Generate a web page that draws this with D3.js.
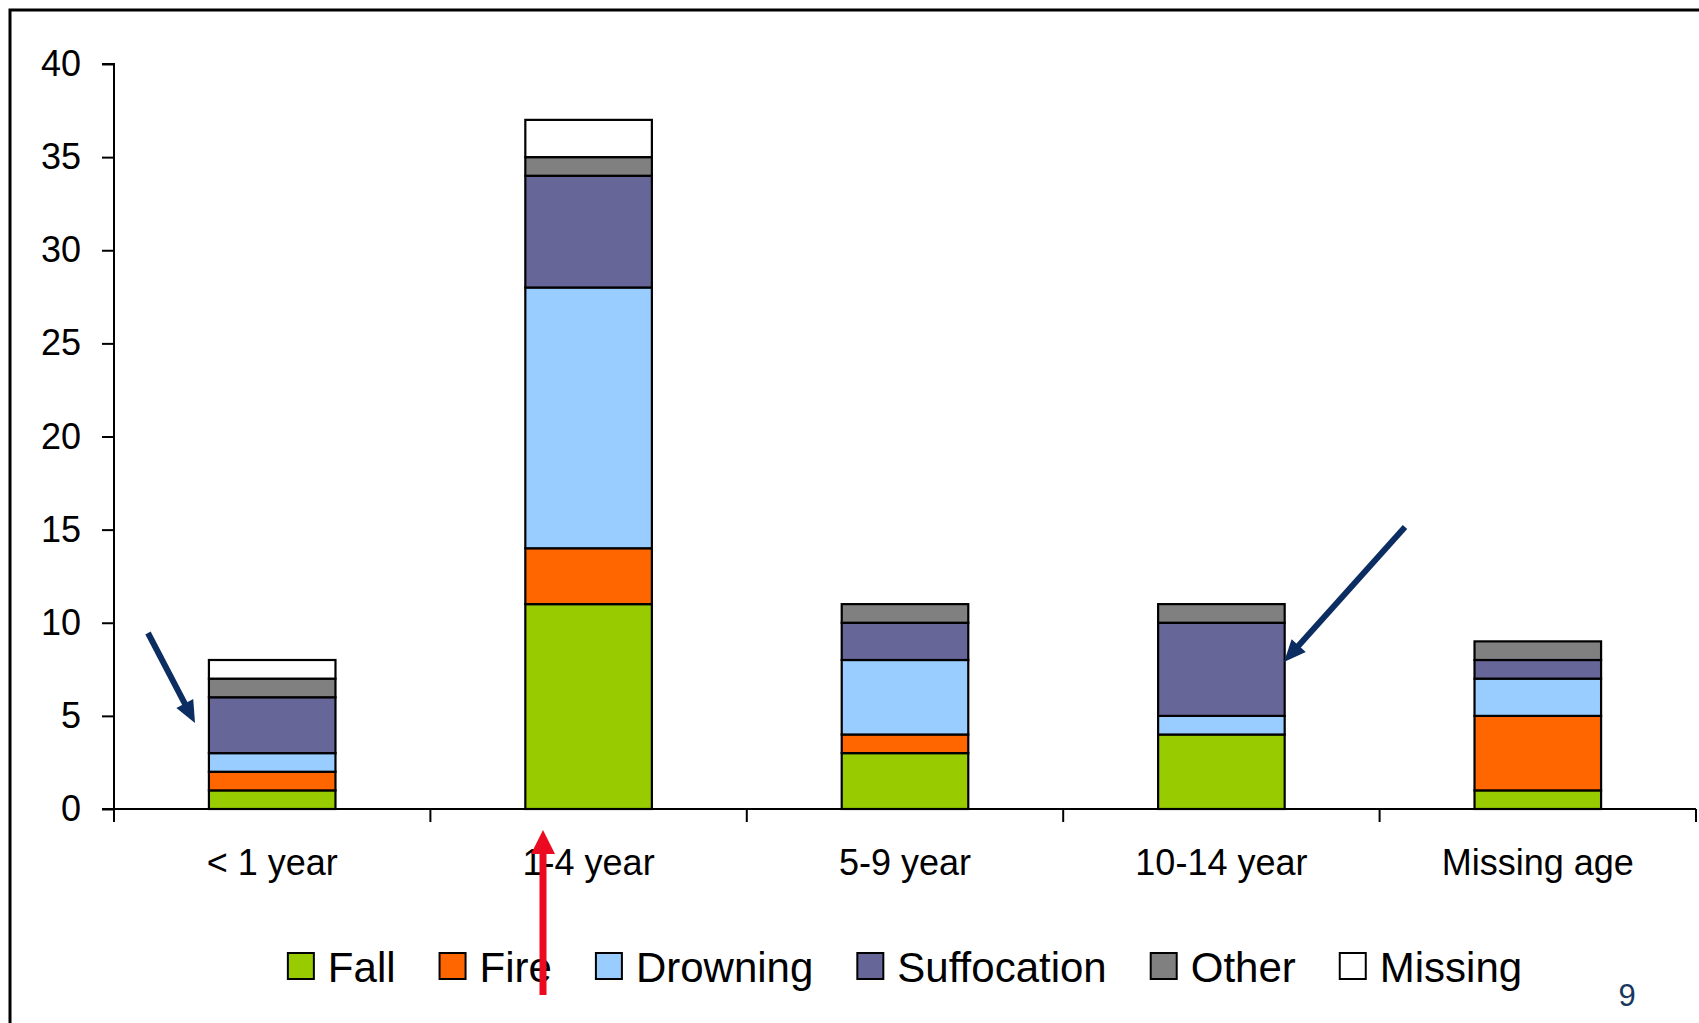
<!DOCTYPE html>
<html>
<head>
<meta charset="utf-8">
<script src="https://cdn.jsdelivr.net/npm/d3@7"></script>
<style>
  body { margin: 0; background: #fff; }
  svg { display: block; font-family: "Liberation Sans", Arial, sans-serif; }
</style>
</head>
<body>
<div id="chart"></div>
<script>
// Data
var categories = ["< 1 year", "1-4 year", "5-9 year", "10-14 year", "Missing age"];
var seriesNames = ["Fall", "Fire", "Drowning", "Suffocation", "Other", "Missing"];
var fall        = [1, 11, 3, 4, 1];
var fire        = [1, 3, 1, 0, 4];
var drowning    = [1, 14, 4, 1, 2];
var suffocation = [3, 6, 2, 5, 1];
var other       = [1, 1, 1, 1, 1];
var missing     = [1, 2, 0, 0, 0];
var yTicks = [0, 5, 10, 15, 20, 25, 30, 35, 40];

var colors = ["#99cc00", "#ff6600", "#99ccff", "#666699", "#808080", "#ffffff"];

var width = 1699, height = 1023;
var margin = {top: 64, left: 114, right: 3, bottom: 214};

var rows = categories.map(function(c, i){
    return {cat: c, Fall: fall[i], Fire: fire[i], Drowning: drowning[i],
            Suffocation: suffocation[i], Other: other[i], Missing: missing[i]};
});

var svg = d3.select("#chart").append("svg")
    .attr("width", width).attr("height", height);

// slide frame
svg.append("path")
    .attr("d", "M10," + height + "V10H" + width)
    .attr("fill", "none").attr("stroke", "#000").attr("stroke-width", 3);

var x = d3.scaleBand()
    .domain(categories)
    .range([margin.left, width - margin.right])
    .paddingInner(0.6).paddingOuter(0.3);

var y = d3.scaleLinear()
    .domain([0, 40])
    .range([height - margin.bottom, margin.top]);

var stack = d3.stack().keys(seriesNames);
var layers = stack(rows);

var g = svg.append("g");
g.selectAll("g.layer")
    .data(layers)
    .enter().append("g")
    .attr("class", "layer")
    .attr("fill", function(d, i){ return colors[i]; })
    .selectAll("rect")
    .data(function(d){ return d.filter(function(p){ return p[1] - p[0] > 0; }); })
    .enter().append("rect")
    .attr("x", function(d){ return x(d.data.cat); })
    .attr("width", x.bandwidth())
    .attr("y", function(d){ return y(d[1]); })
    .attr("height", function(d){ return y(d[0]) - y(d[1]); })
    .attr("stroke", "#000")
    .attr("stroke-width", 2.2);

// y axis
var yAxis = svg.append("g")
    .attr("transform", "translate(" + margin.left + ",0)")
    .call(d3.axisLeft(y).tickValues(yTicks).tickSize(12).tickPadding(21));
yAxis.selectAll("text").attr("font-size", 36).attr("fill", "#000")
    .attr("font-family", "Liberation Sans, Arial, sans-serif");
yAxis.selectAll("line, path").attr("stroke", "#000").attr("stroke-width", 2);
yAxis.select(".domain").attr("d", "M-12," + y(40) + "H0V" + (y(0) + 13));

// x axis
var xAxis = svg.append("g")
    .attr("transform", "translate(0," + y(0) + ")")
    .call(d3.axisBottom(x).tickSize(0).tickPadding(40));
xAxis.selectAll("text").attr("font-size", 36).attr("fill", "#000")
    .attr("font-family", "Liberation Sans, Arial, sans-serif");
xAxis.select(".domain").attr("stroke", "#000").attr("stroke-width", 2)
    .attr("d", "M" + (margin.left - 12) + ",0H" + (width - margin.right));
// boundary ticks between categories
var edges = d3.range(categories.length + 1).map(function(i){
    return margin.left + i * (width - margin.right - margin.left) / categories.length;
});
xAxis.selectAll("line.bound")
    .data(edges)
    .enter().append("line")
    .attr("class", "bound")
    .attr("x1", function(d){ return d; }).attr("x2", function(d){ return d; })
    .attr("y1", 0).attr("y2", 13)
    .attr("stroke", "#000").attr("stroke-width", 2);

// legend
var legend = svg.append("g");
var items = legend.selectAll("g.item")
    .data(seriesNames)
    .enter().append("g").attr("class", "item");
items.append("rect")
    .attr("width", 26).attr("height", 26)
    .attr("y", 953)
    .attr("fill", function(d, i){ return colors[i]; })
    .attr("stroke", "#000").attr("stroke-width", 2);
items.append("text")
    .attr("x", 40).attr("y", 982)
    .attr("font-size", 42)
    .text(function(d){ return d; });
var gap = 44;
var offset = 0;
items.each(function(){
    var w = this.querySelector("text").getComputedTextLength();
    d3.select(this).attr("transform", "translate(" + offset + ",0)");
    offset += 40 + w + gap;
});
var total = offset - gap;
var center = (margin.left + width - margin.right) / 2;
legend.attr("transform", "translate(" + (center - total / 2) + ",0)");

// page number
svg.append("text")
    .attr("x", 1627).attr("y", 1006)
    .attr("text-anchor", "middle")
    .attr("font-family", "Liberation Sans Narrow, Liberation Sans, sans-serif")
    .attr("font-size", 31)
    .attr("fill", "#17375e")
    .text("9");

// annotation arrows
function arrow(x1, y1, x2, y2, sw, hl, hw, color){
    var dx = x2 - x1, dy = y2 - y1, len = Math.sqrt(dx * dx + dy * dy);
    var ux = dx / len, uy = dy / len;
    var bx = x2 - ux * hl, by = y2 - uy * hl;
    svg.append("line")
        .attr("x1", x1).attr("y1", y1).attr("x2", bx + ux * 2).attr("y2", by + uy * 2)
        .attr("stroke", color).attr("stroke-width", sw);
    svg.append("polygon")
        .attr("points", [[x2, y2], [bx - uy * hw / 2, by + ux * hw / 2], [bx + uy * hw / 2, by - ux * hw / 2]]
            .map(function(p){ return p.join(","); }).join(" "))
        .attr("fill", color);
}
arrow(148, 633, 195, 723, 6, 22, 19, "#0c2d62");
arrow(1405, 527, 1284, 662, 6, 22, 19, "#0c2d62");
arrow(543, 995, 543, 830, 7, 24, 24, "#ec0a20");
</script>
</body>
</html>
